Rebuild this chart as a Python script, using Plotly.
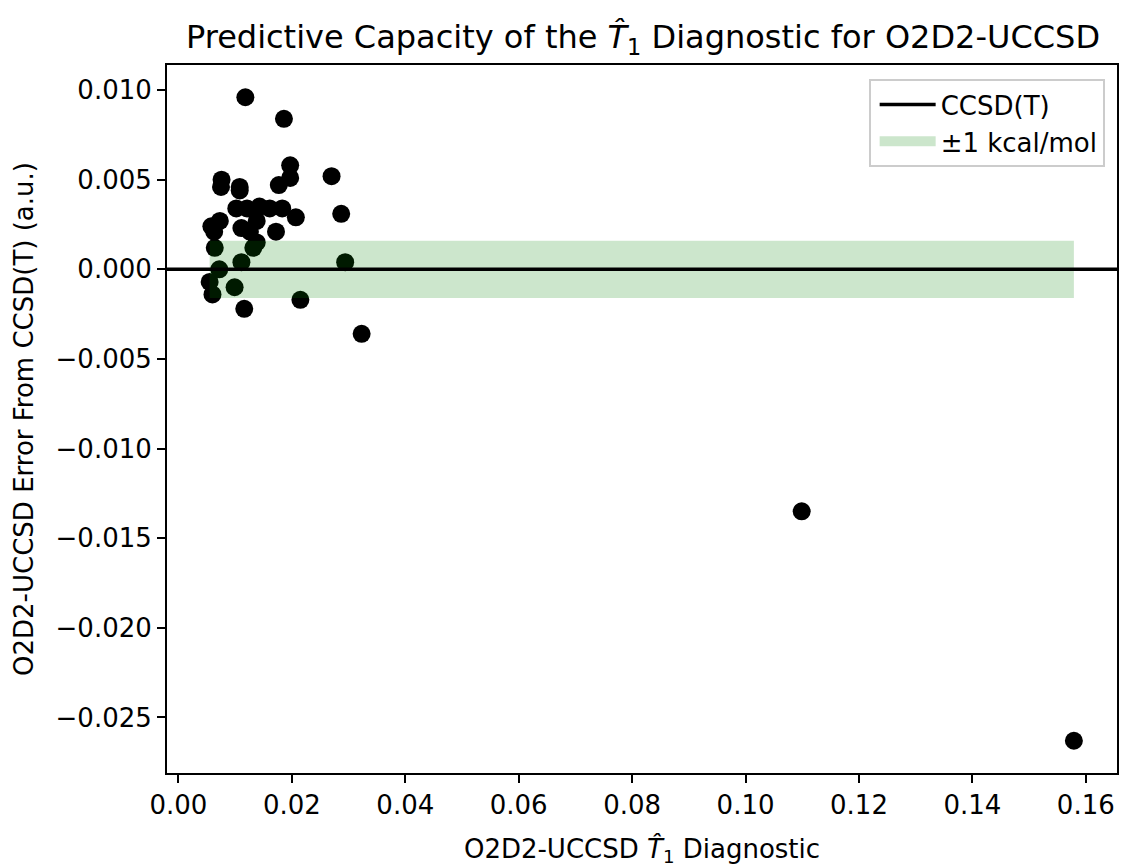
import plotly.graph_objects as go

t1_diag = [0.0118, 0.0186, 0.0197, 0.0197, 0.0177, 0.0270, 0.0287, 0.0076, 0.0075,
           0.0108, 0.0108, 0.0102, 0.0121, 0.0143, 0.0161, 0.0183, 0.0207, 0.0073,
           0.0058, 0.0063, 0.0111, 0.0126, 0.0138, 0.0172, 0.0138, 0.0132, 0.0064,
           0.0111, 0.0294, 0.0072, 0.0055, 0.0060, 0.0099, 0.0215, 0.0116, 0.0323,
           0.1099, 0.1579]
error_au = [0.0096, 0.0084, 0.0058, 0.0051, 0.0047, 0.0052, 0.0031, 0.0050, 0.0046,
            0.0046, 0.0044, 0.0034, 0.0034, 0.0035, 0.0034, 0.0034, 0.0029, 0.0027,
            0.0024, 0.0021, 0.0023, 0.0021, 0.0027, 0.0021, 0.0015, 0.0012, 0.0012,
            0.0004, 0.0004, 0.0000, -0.0007, -0.0014, -0.0010, -0.0017, -0.0022, -0.0036,
            -0.0135, -0.0263]
kcal_au = 0.0015936

x_ticks = [0.00, 0.02, 0.04, 0.06, 0.08, 0.10, 0.12, 0.14, 0.16]
x_ticktext = ["0.00", "0.02", "0.04", "0.06", "0.08", "0.10", "0.12", "0.14", "0.16"]
y_ticks = [0.010, 0.005, 0.000, -0.005, -0.010, -0.015, -0.020, -0.025]
y_ticktext = ["0.010", "0.005", "0.000", "\u22120.005", "\u22120.010", "\u22120.015",
              "\u22120.020", "\u22120.025"]

FONT = "DejaVu Sans"
FS = 26
BAND = "rgba(0,128,0,0.2)"

xlo, xhi = min(t1_diag), max(t1_diag)

fig = go.Figure()
fig.add_trace(go.Scatter(
    x=t1_diag, y=error_au, mode="markers",
    marker=dict(color="black", size=18, line=dict(width=0)),
    showlegend=False, hoverinfo="x+y"))

fig.add_shape(type="line", xref="x domain", yref="y", x0=0, x1=1, y0=0, y1=0,
              line=dict(color="black", width=3.5), layer="above",
              showlegend=True, name="CCSD(T)", legendrank=1)
fig.add_trace(go.Scatter(
    x=[xlo, xhi, xhi, xlo, xlo], y=[-kcal_au, -kcal_au, kcal_au, kcal_au, -kcal_au],
    mode="none", fill="toself", fillcolor=BAND,
    showlegend=False, hoverinfo="skip"))
# legend handle for the band (no data)
fig.add_trace(go.Scatter(
    x=[None], y=[None], mode="lines", line=dict(color=BAND, width=20),
    name="\u00b11 kcal/mol", legendrank=2, hoverinfo="skip"))

fig.update_layout(
    width=1122, height=867,
    margin=dict(l=167, r=3, t=65, b=94),
    paper_bgcolor="white", plot_bgcolor="white",
    font=dict(family=FONT, size=FS, color="black"),
    title=dict(text="Predictive Capacity of the <i>T\u0302</i><sub>1</sub> Diagnostic for O2D2-UCCSD",
               x=(167 + 1119) / 2 / 1122, xanchor="center", y=1 - 37 / 867, yanchor="middle",
               font=dict(size=32, family=FONT)),
    legend=dict(x=0.987, y=0.980, xanchor="right", yanchor="top",
                bgcolor="rgba(255,255,255,0.8)", bordercolor="#cccccc", borderwidth=2,
                font=dict(size=FS, family=FONT), itemwidth=56, indentation=4,
                tracegroupgap=4),
)
fig.update_xaxes(range=[-0.00202, 0.1655], tickvals=x_ticks, ticktext=x_ticktext,
                 showgrid=False, zeroline=False, showline=True, mirror=True,
                 linecolor="black", linewidth=2, ticks="outside", ticklen=8, tickwidth=2,
                 tickcolor="black",
                 title=dict(text="O2D2-UCCSD <i>T\u0302</i><sub>1</sub> Diagnostic", standoff=22,
                            font=dict(size=FS)))
fig.update_yaxes(range=[-0.0281, 0.0114], tickvals=y_ticks, ticktext=y_ticktext,
                 showgrid=False, zeroline=False, showline=True, mirror=True,
                 linecolor="black", linewidth=2, ticks="outside", ticklen=8, tickwidth=2,
                 tickcolor="black",
                 title=dict(text="O2D2-UCCSD Error From CCSD(T) (a.u.)", standoff=14,
                            font=dict(size=FS)))

fig.write_html("out.html", config={"displayModeBar": False},
               post_script="document.body.style.margin='0';document.body.style.overflow='hidden';")
